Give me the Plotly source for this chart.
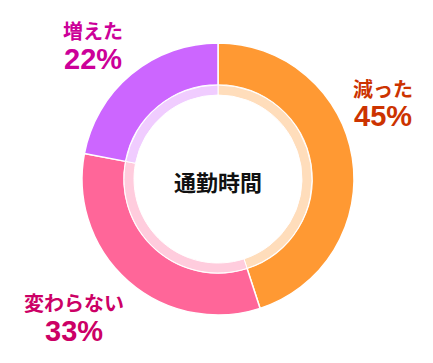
import plotly.graph_objects as go

labels = ["減った", "変わらない", "増えた"]
values = [45, 33, 22]
outer_colors = ["#FF9933", "#FF6699", "#CC66FF"]
inner_colors = ["#FFDDBB", "#FFCCDD", "#F0CCFF"]
label_colors = ["#CC3300", "#CC0066", "#CC0099"]
center_title = "通勤時間"

OFF = 8  # default page body margin
W, H = 433 - OFF, 363 - OFF
cx, cy = 218 - OFF, 179 - OFF
r_out, r_mid, r_in = 136, 94, 84

def dom(r):
    return dict(x=[(cx - r) / W, (cx + r) / W], y=[(H - cy - r) / H, (H - cy + r) / H])

fig = go.Figure()
fig.add_trace(go.Pie(labels=labels, values=values, sort=False, direction="clockwise",
                     rotation=0, hole=r_mid / r_out, domain=dom(r_out),
                     marker=dict(colors=outer_colors, line=dict(color="white", width=1.5)),
                     textinfo="none", hoverinfo="label+percent", showlegend=False))
fig.add_trace(go.Pie(labels=labels, values=values, sort=False, direction="clockwise",
                     rotation=0, hole=r_in / r_mid, domain=dom(r_mid),
                     marker=dict(colors=inner_colors, line=dict(color="white", width=1)),
                     textinfo="none", hoverinfo="label+percent", showlegend=False))

jp = "Noto Sans CJK JP"
num = "Liberation Sans, Arial, sans-serif"
# label positions (page pixels): x center, name y center, percent y center
pos = [(383, 88, 116), (74, 302, 331), (93, 30, 59)]
for (x, yl, yp), lab, v, c in zip(pos, labels, values, label_colors):
    fig.add_annotation(x=(x - OFF) / W, y=1 - (yl - OFF) / H, xref="paper", yref="paper",
                       text=f"<b>{lab}</b>", showarrow=False,
                       font=dict(family=jp, size=20, color=c),
                       xanchor="center", yanchor="middle")
    fig.add_annotation(x=(x - OFF) / W, y=1 - (yp - OFF) / H, xref="paper", yref="paper",
                       text=f"<b>{v}%</b>", showarrow=False,
                       font=dict(family=num, size=29, color=c),
                       xanchor="center", yanchor="middle")

fig.add_annotation(x=cx / W, y=1 - (181 - OFF) / H, xref="paper", yref="paper",
                   text=f"<b>{center_title}</b>", showarrow=False,
                   font=dict(family=jp, size=22, color="#111111"),
                   xanchor="center", yanchor="middle")

fig.update_layout(width=W, height=H, margin=dict(l=0, r=0, t=0, b=0),
                  paper_bgcolor="white", plot_bgcolor="white")
fig.write_html("out.html")
